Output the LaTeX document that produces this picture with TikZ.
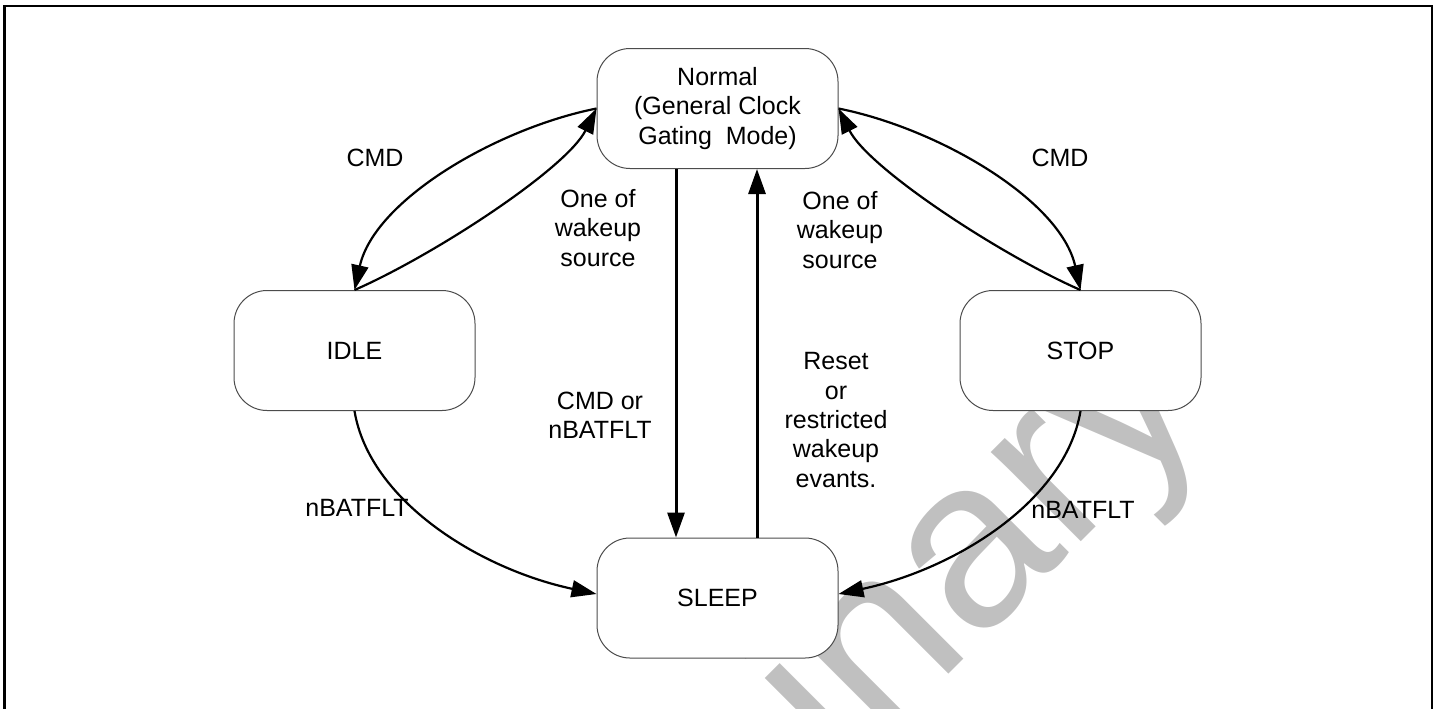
\documentclass[tikz,border=0pt]{standalone}
\usepackage{fontspec}
\setmainfont{Liberation Sans}
\usetikzlibrary{arrows.meta}
\definecolor{wm}{HTML}{C0C0C0}
\newcommand\labfont{\fontsize{12.5}{14.7}\selectfont}
\begin{document}
\begin{tikzpicture}[x=0.5pt,y=-0.5pt,
  state/.style={draw=black!70, line width=0.5pt, fill=white, rounded corners=16.5pt,
    minimum width=120.5pt, minimum height=60pt, inner sep=0pt, align=center, font=\labfont},
  lbl/.style={align=center, inner sep=0pt, font=\labfont},
  conn/.style={line width=1.1pt, -{Triangle[length=12.5pt,width=8.5pt]}},
  vconn/.style={line width=1.5pt, -{Triangle[length=12.5pt,width=8.5pt]}}]
\useasboundingbox (0,0) rectangle (1434,708);
\clip (0,0) rectangle (1434,708);
% watermark
\node[anchor=base west, rotate=45, text=wm, inner sep=0pt,
  font=\fontsize{120}{120}\selectfont] (wmark) at (362,1261) {Preliminary};
% frame
\draw[line width=1.25pt, line join=miter] (4.5,720) -- (4.5,6) -- (1432,6) -- (1432,720);
% states
\node[state] (normal) at (717.5,108.5) {Normal\\(General Clock\\Gating\ \ Mode)};
\node[state] (idle) at (354.5,350.5) {IDLE};
\node[state] (stop) at (1080.5,350.5) {STOP};
\node[state] (sleep) at (717.5,598) {SLEEP};
% connectors
\draw[conn] (normal.west) .. controls +(-100,20) and +(20,-90) .. (idle.north);
\draw[conn] (idle.north) .. controls +(80,-35) and +(-30,60) .. (normal.west);
\draw[conn] (normal.east) .. controls +(100,20) and +(-20,-90) .. (stop.north);
\draw[conn] (stop.north) .. controls +(-80,-35) and +(30,60) .. (normal.east);
\draw[conn] (idle.south) .. controls +(15,90) and +(-117,-25) .. ([yshift=2pt]sleep.west);
\draw[conn] (stop.south) .. controls +(-15,90) and +(117,-25) .. ([yshift=2pt]sleep.east);
\draw[vconn] ([xshift=-20.75pt]normal.south) -- ([xshift=-20.75pt]sleep.north);
\draw[vconn] ([xshift=19.75pt]sleep.north) -- ([xshift=19.75pt]normal.south);
% labels
\node[lbl] (cmdL) at (375,158) {CMD};
\node[lbl] (cmdR) at (1060,158) {CMD};
\node[lbl] (wakeL) at (598,228) {One of\\wakeup\\source};
\node[lbl] (wakeR) at (840,230) {One of\\wakeup\\source};
\node[lbl] (cmdor) at (600,415) {CMD or\\nBATFLT};
\node[lbl] (reset) at (836,420) {Reset\\or\\restricted\\wakeup\\evants.};
\node[lbl] (nbatL) at (357,508) {nBATFLT};
\node[lbl] (nbatR) at (1083,510) {nBATFLT};
\end{tikzpicture}
\end{document}
